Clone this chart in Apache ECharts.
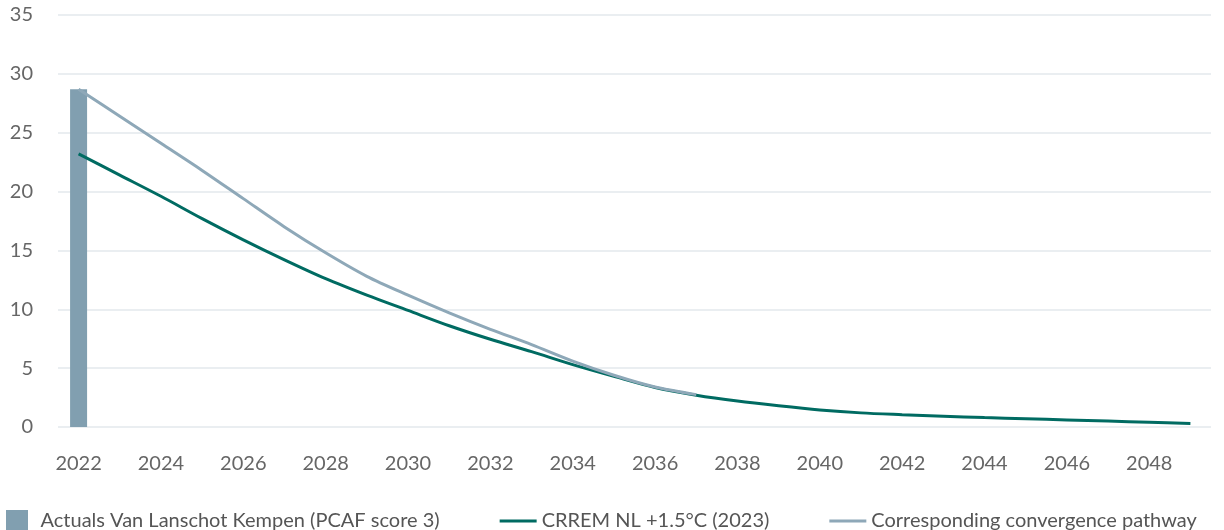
<!DOCTYPE html>
<html>
<head>
<meta charset="utf-8">
<script src="https://cdn.jsdelivr.net/npm/echarts@6/dist/echarts.min.js"></script>
<style>
html, body { margin: 0; padding: 0; background: #fff; }
#chart { width: 1224px; height: 530px; }
</style>
</head>
<body>
<div id="chart"></div>
<script>
// years on the x axis
var years = ['2022','2023','2024','2025','2026','2027','2028','2029','2030','2031','2032','2033','2034','2035',
             '2036','2037','2038','2039','2040','2041','2042','2043','2044','2045','2046','2047','2048','2049'];

// actual value, only 2022
var actuals = [28.7];

// CRREM NL +1.5C pathway
var crrem = [23.2, 21.4, 19.6, 17.7, 15.9, 14.2, 12.6, 11.2, 9.9, 8.6, 7.45, 6.4, 5.3, 4.3,
             3.35, 2.7, 2.2, 1.8, 1.45, 1.2, 1.05, 0.92, 0.8, 0.7, 0.6, 0.5, 0.4, 0.3];

// convergence pathway (ends in 2037)
var convergence = [28.7, 26.4, 24.1, 21.8, 19.4, 17.0, 14.8, 12.8, 11.2, 9.7, 8.3, 7.0, 5.6, 4.4, 3.4, 2.75];

var names = ['Actuals Van Lanschot Kempen (PCAF score 3)', 'CRREM NL +1.5°C (2023)', 'Corresponding convergence pathway'];

var myChart = echarts.init(document.getElementById('chart'));

var option = {
    backgroundColor: '#fff',
    animation: false,
    textStyle: { fontFamily: 'Lato' },
    grid: {
        left: 58,
        right: 13,
        top: 15,
        bottom: 103
    },
    legend: {
        left: 6,
        top: 510,
        padding: 0,
        itemWidth: 37,
        itemHeight: 22,
        itemGap: 60,
        textStyle: { color: '#555', fontSize: 20, fontFamily: 'Lato' },
        data: [
            { name: names[0], icon: 'path://M0 0H10V10H0Z' },
            { name: names[1], icon: 'path://M0 0H40V3H0Z' },
            { name: names[2], icon: 'path://M0 0H40V3H0Z' }
        ]
    },
    xAxis: {
        type: 'category',
        data: years,
        axisLine: { show: false },
        axisTick: { show: false },
        axisLabel: {
            color: '#666',
            fontSize: 20,
            margin: 27,
            interval: 1
        }
    },
    yAxis: {
        type: 'value',
        min: 0,
        max: 35,
        interval: 5,
        axisLine: { show: false },
        axisTick: { show: false },
        axisLabel: { color: '#666', fontSize: 20, margin: 25 },
        splitLine: { lineStyle: { color: '#e3e8ec', width: 1.5 } }
    },
    series: [
        {
            name: names[0],
            type: 'bar',
            data: actuals,
            barWidth: 17,
            itemStyle: { color: '#819fb0' },
            z: 1
        },
        {
            name: names[1],
            type: 'line',
            data: crrem,
            smooth: 0.3,
            showSymbol: false,
            lineStyle: { color: '#006b62', width: 3 },
            itemStyle: { color: '#006b62' },
            z: 2
        },
        {
            name: names[2],
            type: 'line',
            data: convergence,
            smooth: 0.3,
            showSymbol: false,
            lineStyle: { color: '#8ea8b8', width: 3 },
            itemStyle: { color: '#8ea8b8' },
            z: 3
        }
    ]
};

myChart.setOption(option);

window.addEventListener('resize', function () {
    myChart.resize();
});
</script>
</body>
</html>
